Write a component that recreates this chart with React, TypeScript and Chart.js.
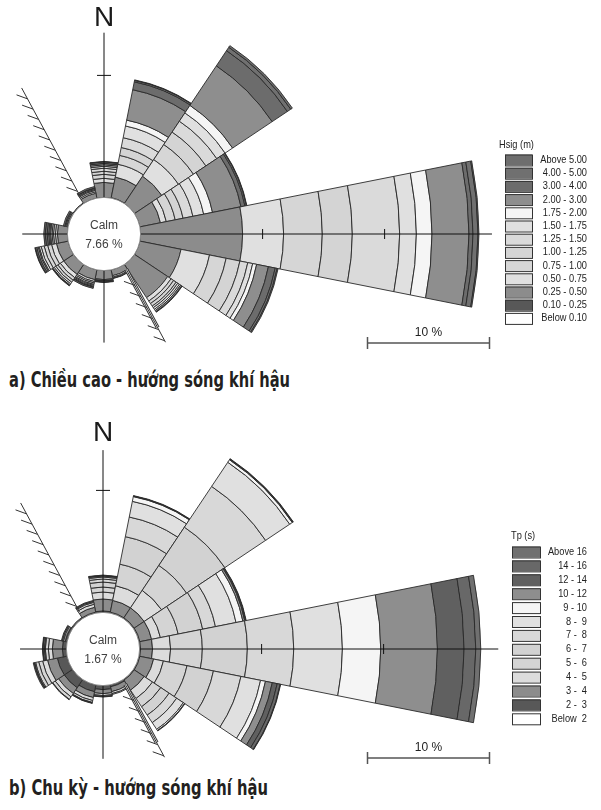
import { useEffect, useLayoutEffect, useRef } from "react";
import { Chart, registerables } from "chart.js";

Chart.register(...registerables);

// 16 compass sectors, clockwise from north
const DIRECTIONS = ["N", "NNE", "NE", "ENE", "E", "ESE", "SE", "SSE", "S", "SSW", "SW", "WSW", "W", "WNW", "NW", "NNW"];
const SECTOR = 22.5;

// ---- Significant wave height Hsig (m): % of time per sector, lowest class first ----
const hsigClasses = ["Below 0.10", "0.10 - 0.25", "0.25 - 0.50", "0.50 - 0.75", "0.75 - 1.00", "1.00 - 1.25", "1.25 - 1.50", "1.50 - 1.75", "1.75 - 2.00", "2.00 - 3.00", "3.00 - 4.00", "4.00 - 5.00", "Above 5.00"];
const hsigColors = ["#ffffff", "#585858", "#8c8c8c", "#e0e0e0", "#d6d6d6", "#d4d4d4", "#dadada", "#e0e0e0", "#f5f5f5", "#8e8e8e", "#6c6c6c", "#707070", "#6e6e6e"];
const hsigBelow010 = [0, 0, 0, 0, 0, 0, 0, 0, 0, 0, 0, 0, 0, 0, 0, 0];
const hsig010to025 = [0, 0.04, 0, 0, 0, 0, 0, 0, 0, 0, 0, 0, 0, 0, 0, 0];
const hsig025to050 = [1.23, 1.72, 2.7, 1.72, 8.36, 3.44, 3.28, 0.49, 0.74, 0.82, 0.98, 0.98, 0.82, 0.12, 0.04, 0.41];
const hsig050to075 = [0.33, 1.07, 1.64, 0.49, 3.36, 2.38, 0.33, 0.12, 0.08, 0.16, 0.33, 0.41, 0.16, 0.08, 0, 0.12];
const hsig075to100 = [0.33, 0.74, 1.48, 0.74, 3.17, 1.39, 0.25, 0.08, 0, 0.12, 0.25, 0.33, 0.16, 0, 0, 0.12];
const hsig100to125 = [0.25, 0.66, 1.23, 0.66, 2.46, 1.15, 0.25, 0.04, 0, 0.12, 0.2, 0.29, 0.12, 0, 0, 0.08];
const hsig125to150 = [0.25, 0.82, 1.07, 0.82, 3.88, 0.66, 0.16, 0, 0, 0.08, 0.16, 0.25, 0.12, 0, 0, 0.08];
const hsig150to175 = [0.16, 0.98, 0.82, 0.9, 1.37, 0.41, 0.16, 0, 0, 0, 0.12, 0.16, 0.08, 0, 0, 0];
const hsig175to200 = [0.12, 0.49, 0.74, 0.74, 1.28, 0.33, 0.12, 0, 0, 0.08, 0.04, 0.08, 0.08, 0, 0, 0];
const hsig200to300 = [0.12, 2.54, 3.9, 2.38, 3.03, 0.98, 0.12, 0, 0.04, 0.07, 0.04, 0.12, 0.12, 0.08, 0, 0.04];
const hsig300to400 = [0.12, 0.66, 1.5, 0.33, 0.33, 0.57, 0.04, 0, 0.08, 0.1, 0, 0.12, 0.16, 0.12, 0.03, 0.12];
const hsig400to500 = [0.04, 0.12, 0.33, 0.12, 0.41, 0.16, 0, 0, 0.04, 0, 0, 0.04, 0.12, 0, 0, 0];
const hsigAbove500 = [0, 0.04, 0.16, 0.04, 0.08, 0.08, 0, 0, 0, 0, 0, 0, 0, 0, 0, 0];
const hsigCalm = 7.66;

// ---- Peak period Tp (s): % of time per sector, lowest class first ----
const tpClasses = ["Below  2", "2 -  3", "3 -  4", "4 -  5", "5 -  6", "6 -  7", "7 -  8", "8 -  9", "9 - 10", "10 - 12", "12 - 14", "14 - 16", "Above 16"];
const tpColors = ["#ffffff", "#585858", "#8c8c8c", "#dcdcdc", "#d4d4d4", "#d2d2d2", "#d8d8d8", "#e0e0e0", "#f5f5f5", "#8e8e8e", "#606060", "#686868", "#707070"];
const tpBelow2 = [0, 0, 0, 0, 0, 0, 0, 0, 0, 0, 0, 0, 0, 0, 0, 0];
const tp2to3 = [0.12, 0.08, 0.08, 0.08, 0.08, 0.08, 0.08, 0.16, 0.33, 0.57, 0.82, 0.82, 0.33, 0.16, 0.04, 0.08];
const tp3to4 = [0.98, 0.98, 0.98, 0.98, 0.98, 1.15, 0.98, 0.41, 0.33, 0.49, 0.57, 0.82, 0.82, 0.16, 0.08, 0.41];
const tp4to5 = [0.57, 1.23, 1.72, 0.74, 1.48, 0.82, 0.82, 0.16, 0.16, 0.25, 0.33, 0.41, 0.33, 0.08, 0, 0.25];
const tp5to6 = [0.41, 1.8, 2.46, 1.48, 2.6, 1.97, 0.82, 0.08, 0.08, 0.16, 0.25, 0.33, 0.25, 0, 0, 0.16];
const tp6to7 = [0.41, 2.3, 3.77, 2.05, 3.69, 2.21, 0.82, 0, 0, 0.04, 0.04, 0.25, 0, 0, 0, 0.08];
const tp7to8 = [0.25, 1.64, 4.02, 1.07, 3.8, 2.3, 0.74, 0, 0, 0, 0, 0.08, 0, 0, 0, 0];
const tp8to9 = [0.16, 1.31, 2.38, 1.72, 3.99, 1.64, 0.66, 0, 0, 0, 0, 0, 0, 0, 0, 0];
const tp9to10 = [0.08, 0.4, 0.25, 0.57, 3.14, 0.41, 0.12, 0, 0, 0, 0, 0, 0, 0, 0, 0];
const tp10to12 = [0.04, 0.04, 0.06, 0.16, 4.65, 0.57, 0.04, 0, 0, 0, 0, 0.04, 0.08, 0, 0, 0];
const tp12to14 = [0.04, 0.04, 0.04, 0.08, 2.18, 0.41, 0, 0, 0.04, 0.04, 0, 0.08, 0.12, 0.08, 0, 0.08];
const tp14to16 = [0, 0, 0, 0.04, 0.96, 0.25, 0, 0, 0, 0, 0, 0, 0.04, 0, 0, 0];
const tpAbove16 = [0, 0, 0, 0, 0.41, 0.04, 0, 0, 0, 0, 0, 0, 0, 0, 0, 0];
const tpCalm = 1.67;

// Ring left empty round the centre for the calm circle (in % units), and axis tick steps
const CALM_RING = 3.0;
const AXIS_TICKS = [10, 20];
const SCALE_BAR = 10;

// Drawing geometry
const PAGE_W = 601;
const PX_PER_PCT = 12.2;
const FONT = '"Liberation Sans", Arial, sans-serif';
const NARROW_X = 0.84; // horizontal squeeze for the narrow legend lettering

type Legend = { title: string; titleX: number; titleY: number; boxX: number; boxW: number; boxH: number; firstY: number; step: number; textRight: number };

type Panel = {
  top: number;
  height: number;
  center: [number, number];
  series: number[][];
  colors: string[];
  classes: string[];
  calm: number;
  arms: { n: number; e: number; s: number; w: number };
  legend: Legend;
};

// Shoreline (x east, y north, % units) drawn as a hatched line
const COAST_NW: [number, number][] = [[-6.75, 11.97], [-1.93, 3.05]];
const COAST_SE: [number, number][] = [[1.83, -2.9], [5.04, -8.87]];

function narrowText(ctx: CanvasRenderingContext2D, text: string, x: number, y: number) {
  ctx.save();
  ctx.translate(x, y);
  ctx.scale(NARROW_X, 1);
  ctx.fillText(text, 0, 0);
  ctx.restore();
}

function makeRosePlugin(p: Panel) {
  return {
    id: "waveRose",
    afterDraw(chart: any) {
      const ctx: CanvasRenderingContext2D = chart.ctx;
      const xs = chart.scales.x;
      const ys = chart.scales.y;
      const cx = xs.getPixelForValue(0);
      const cy = ys.getPixelForValue(0);
      const r = (v: number) => xs.getPixelForValue(v) - cx;
      const pt = (q: [number, number]) => [xs.getPixelForValue(q[0]), ys.getPixelForValue(q[1])];
      const calmR = r(CALM_RING);
      const deg = Math.PI / 180;

      ctx.save();

      // stacked sectors
      DIRECTIONS.forEach((_, d) => {
        const b = d * SECTOR;
        const a0 = (b - SECTOR / 2 - 90) * deg;
        const a1 = (b + SECTOR / 2 - 90) * deg;
        let cum = CALM_RING;
        p.series.forEach((s, k) => {
          const v = s[d];
          if (!v) return;
          const r0 = r(cum);
          const r1 = r(cum + v);
          ctx.beginPath();
          ctx.arc(cx, cy, r1, a0, a1);
          ctx.arc(cx, cy, r0, a1, a0, true);
          ctx.closePath();
          ctx.fillStyle = p.colors[k];
          ctx.fill();
          ctx.lineWidth = 0.9;
          ctx.strokeStyle = "#2a2a2a";
          ctx.stroke();
          cum += v;
        });
      });

      // compass arms
      ctx.strokeStyle = "#111";
      ctx.lineWidth = 1;
      ctx.beginPath();
      ctx.moveTo(cx, cy - calmR);
      ctx.lineTo(cx, cy - r(p.arms.n));
      ctx.moveTo(cx, cy + calmR);
      ctx.lineTo(cx, cy + r(p.arms.s));
      ctx.moveTo(cx + calmR, cy);
      ctx.lineTo(cx + r(p.arms.e), cy);
      ctx.moveTo(cx - calmR, cy);
      ctx.lineTo(cx - r(p.arms.w), cy);
      ctx.stroke();

      // ticks
      ctx.beginPath();
      const nTick = r(CALM_RING + AXIS_TICKS[0]);
      ctx.moveTo(cx - 7, cy - nTick);
      ctx.lineTo(cx + 7, cy - nTick);
      AXIS_TICKS.forEach((t) => {
        const e = r(CALM_RING + t);
        ctx.moveTo(cx + e, cy - 5);
        ctx.lineTo(cx + e, cy + 5);
      });
      ctx.stroke();

      // hatched shoreline
      const coast = (seg: [number, number][], from: number, to: number, n: number, cored: number) => {
        const [x0, y0] = pt(seg[0]);
        const [x1, y1] = pt(seg[1]);
        if (cored > 0) {
          const xc = x0 + (x1 - x0) * cored;
          const yc = y0 + (y1 - y0) * cored;
          ctx.lineWidth = 4;
          ctx.strokeStyle = "#333";
          ctx.beginPath();
          ctx.moveTo(x0, y0);
          ctx.lineTo(xc, yc);
          ctx.stroke();
          ctx.lineWidth = 2;
          ctx.strokeStyle = "#fff";
          ctx.stroke();
        }
        ctx.lineWidth = 1;
        ctx.strokeStyle = "#333";
        ctx.beginPath();
        ctx.moveTo(x0, y0);
        ctx.lineTo(x1, y1);
        for (let i = 0; i < n; i++) {
          const t = from + ((to - from) * i) / (n - 1);
          const hx = x0 + (x1 - x0) * t;
          const hy = y0 + (y1 - y0) * t;
          ctx.moveTo(hx, hy);
          ctx.lineTo(hx - 11, hy - 4);
        }
        ctx.stroke();
      };
      coast(COAST_NW, 0.1, 0.95, 10, 0);
      coast(COAST_SE, 0.22, 0.98, 6, 0.8);

      // calm circle
      ctx.beginPath();
      ctx.arc(cx, cy, calmR, 0, Math.PI * 2);
      ctx.fillStyle = "#fff";
      ctx.fill();
      ctx.lineWidth = 1;
      ctx.strokeStyle = "#8a8a8a";
      ctx.stroke();
      ctx.fillStyle = "#404040";
      ctx.font = `12px ${FONT}`;
      ctx.textAlign = "center";
      ctx.textBaseline = "middle";
      ctx.fillText("Calm", cx, cy - 8);
      ctx.fillText(`${p.calm.toFixed(2)} %`, cx, cy + 11);

      // north label
      ctx.fillStyle = "#1a1a1a";
      ctx.font = `28px ${FONT}`;
      ctx.fillText("N", cx, cy - 216);

      // legend (highest class on top)
      const L = p.legend;
      ctx.font = `11px ${FONT}`;
      ctx.textAlign = "left";
      ctx.fillStyle = "#222";
      narrowText(ctx, L.title, L.titleX, L.titleY);
      ctx.textAlign = "right";
      const n = p.classes.length;
      for (let i = 0; i < n; i++) {
        const k = n - 1 - i;
        const y = L.firstY + i * L.step;
        ctx.fillStyle = p.colors[k];
        ctx.fillRect(L.boxX, y - L.boxH / 2, L.boxW, L.boxH);
        ctx.strokeStyle = "#333";
        ctx.lineWidth = 1;
        ctx.strokeRect(L.boxX + 0.5, y - L.boxH / 2 + 0.5, L.boxW, L.boxH);
        ctx.fillStyle = "#222";
        narrowText(ctx, p.classes[k], L.textRight, y);
      }

      // scale bar
      const bx0 = 367.5;
      const bx1 = bx0 + r(SCALE_BAR) - r(0);
      const by = cy + 109;
      ctx.strokeStyle = "#555";
      ctx.lineWidth = 1.5;
      ctx.beginPath();
      ctx.moveTo(bx0, by);
      ctx.lineTo(bx1, by);
      ctx.moveTo(bx0, by - 6);
      ctx.lineTo(bx0, by + 6);
      ctx.moveTo(bx1, by - 6);
      ctx.lineTo(bx1, by + 6);
      ctx.stroke();
      ctx.fillStyle = "#222";
      ctx.font = `12px ${FONT}`;
      ctx.textAlign = "center";
      ctx.fillText(`${SCALE_BAR} %`, (bx0 + bx1) / 2, by - 10);

      ctx.restore();
    },
  };
}

function WaveRose(p: Panel) {
  const ref = useRef<HTMLCanvasElement>(null);
  useEffect(() => {
    const canvas = ref.current;
    if (!canvas) return;
    const [cx, cy] = p.center;
    const chart = new Chart(canvas, {
      type: "scatter",
      data: { datasets: [] },
      options: {
        responsive: false,
        maintainAspectRatio: false,
        animation: false,
        devicePixelRatio: 1,
        events: [],
        layout: { padding: 0 },
        plugins: { legend: { display: false }, tooltip: { enabled: false } },
        scales: {
          x: { type: "linear", display: false, min: -cx / PX_PER_PCT, max: (PAGE_W - cx) / PX_PER_PCT },
          y: { type: "linear", display: false, min: -(p.height - cy) / PX_PER_PCT, max: cy / PX_PER_PCT },
        },
      },
      plugins: [makeRosePlugin(p)],
    });
    return () => chart.destroy();
  }, []);
  return (
    <canvas
      ref={ref}
      width={PAGE_W}
      height={p.height}
      style={{ position: "absolute", left: 0, top: p.top, width: PAGE_W, height: p.height }}
    />
  );
}

// Bold condensed caption, squeezed to its set width
function Caption({ text, top, width }: { text: string; top: number; width: number }) {
  const ref = useRef<HTMLSpanElement>(null);
  useLayoutEffect(() => {
    const el = ref.current;
    if (!el) return;
    el.style.transform = "none";
    const w = el.getBoundingClientRect().width;
    if (w > 0) el.style.transform = `scaleX(${width / w})`;
  }, [text, width]);
  return (
    <span
      ref={ref}
      style={{
        position: "absolute",
        left: 9,
        top,
        transformOrigin: "0 0",
        fontFamily: '"DejaVu Sans", sans-serif',
        fontWeight: 700,
        fontSize: 22,
        lineHeight: "26px",
        color: "#231f20",
        whiteSpace: "nowrap",
        display: "inline-block",
      }}
    >
      {text}
    </span>
  );
}

export default function App() {
  const hsigSeries = [hsigBelow010, hsig010to025, hsig025to050, hsig050to075, hsig075to100, hsig100to125, hsig125to150, hsig150to175, hsig175to200, hsig200to300, hsig300to400, hsig400to500, hsigAbove500];
  const tpSeries = [tpBelow2, tp2to3, tp3to4, tp4to5, tp5to6, tp6to7, tp7to8, tp8to9, tp9to10, tp10to12, tp12to14, tp14to16, tpAbove16];
  return (
    <div style={{ position: "absolute", left: 0, top: 0, width: 601, height: 810, background: "#fff", overflow: "hidden" }}>
      <WaveRose
        top={0}
        height={365}
        center={[104, 234]}
        series={hsigSeries}
        colors={hsigColors}
        classes={hsigClasses}
        calm={hsigCalm}
        arms={{ n: 16.5, e: 31.8, s: 8.9, w: 6.7 }}
        legend={{ title: "Hsig (m)", titleX: 499, titleY: 145, boxX: 505, boxW: 27, boxH: 11, firstY: 160, step: 13.2, textRight: 587 }}
      />
      <Caption text="a) Chiều cao - hướng sóng khí hậu" top={367} width={281} />
      <WaveRose
        top={405}
        height={365}
        center={[103, 244]}
        series={tpSeries}
        colors={tpColors}
        classes={tpClasses}
        calm={tpCalm}
        arms={{ n: 16.3, e: 32.4, s: 9.0, w: 6.8 }}
        legend={{ title: "Tp (s)", titleX: 511, titleY: 131, boxX: 512, boxW: 28, boxH: 11, firstY: 147, step: 13.9, textRight: 587 }}
      />
      <Caption text="b) Chu kỳ - hướng sóng khí hậu" top={775} width={259} />
    </div>
  );
}
